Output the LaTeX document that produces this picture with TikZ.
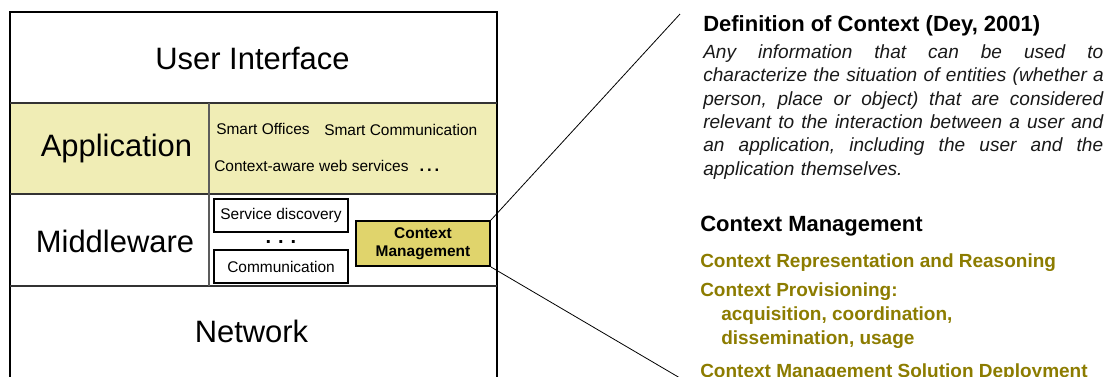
\documentclass[tikz,border=0pt]{standalone}
\usepackage{fontspec}
\setmainfont{Liberation Sans}
\definecolor{appfill}{HTML}{F0EDB5}
\definecolor{cmfill}{HTML}{E0D46C}
\definecolor{olivetxt}{HTML}{8C7C00}
\definecolor{sepgray}{HTML}{333333}
\newcommand{\justline}[1]{\leavevmode\hbox to 300pt{#1}}
\tikzset{
  biglabel/.style={font=\fontsize{23.2pt}{27pt}\selectfont, anchor=base, inner sep=0pt},
  smalltxt/.style={font=\fontsize{11.6pt}{14pt}\selectfont, anchor=base west, inner sep=0pt},
  subbox/.style={draw=black, line width=1.1pt, fill=white, minimum width=100.5pt, minimum height=24.75pt, inner sep=0pt, font=\fontsize{11.6pt}{14pt}\selectfont},
  cmbox/.style={draw=black, line width=1.5pt, fill=cmfill, minimum width=100.5pt, minimum height=33.75pt, inner sep=0pt, align=center, font=\bfseries\fontsize{11.6pt}{13.3pt}\selectfont},
  sepline/.style={draw=sepgray, line width=1.6pt},
  outerframe/.style={draw=black, line width=1pt},
  callout/.style={draw=black, line width=0.6pt},
  rhead/.style={font=\bfseries\fontsize{16.5pt}{19pt}\selectfont, anchor=base west, inner sep=0pt},
  olvitem/.style={font=\bfseries\fontsize{14.25pt}{17pt}\selectfont, text=olivetxt, anchor=base west, inner sep=0pt},
  ellip/.style={font=\bfseries\fontsize{12.5pt}{14pt}\selectfont, anchor=base, inner sep=0pt},
  defpara/.style={anchor=north west, inner sep=0pt, text width=300pt, align=left, font=\itshape\fontsize{14.3pt}{17.6pt}\selectfont, text=black!90},
}
\begin{document}
\begin{tikzpicture}[x=0.75pt,y=-0.75pt]
\useasboundingbox (0,0) rectangle (1108,376);
\begin{scope}
\clip (0,0) rectangle (1108,376);
% layers
\fill[appfill] (10,103.3) rectangle (497,194);
\draw[outerframe] (10,12) rectangle (497,420);
\draw[sepline] (10,103.3) -- (497,103.3);
\draw[sepline] (10,194) -- (497,194);
\draw[sepline] (10,286) -- (497,286);
\draw[sepline, draw=sepgray!80] (209,103.3) -- (209,286);
% layer labels
\node[biglabel] (ui) at (252.5,69.5) {User Interface};
\node[biglabel] (app) at (116.5,156.7) {Application};
\node[biglabel] (mw) at (115,252.3) {Middleware};
\node[biglabel] (net) at (251.5,342.7) {Network};
% application items
\node[smalltxt] (so) at (216,134) {Smart Offices};
\node[smalltxt] (sc) at (324,135) {Smart Communication};
\node[smalltxt] (caws) at (214,171) {Context-aware web services};
\node[ellip] (appdots) at (429.5,171.5) {.\hspace{2.2pt}.\hspace{2.2pt}.};
% middleware items
\node[subbox] (sd) at (281,215.5) {Service discovery};
\node[subbox] (comm) at (281,266.5) {Communication};
\node[ellip, font=\bfseries\fontsize{15pt}{16pt}\selectfont] (mwdots) at (281,243) {.\hspace{5.2pt}.\hspace{5.2pt}.};
\node[cmbox] (cm) at (423,243.5) {Context\\Management};
% callout
\coordinate (ctop) at (680,14);
\coordinate (cbot) at (680,378);
\draw[callout] (cm.north east) -- (ctop);
\draw[callout] (cm.south east) -- (cbot);
% right texts
\node[rhead] (deftitle) at (703,31.5) {Definition of Context (Dey, 2001)};
\node[defpara] (defn) at (703,44) {%
\justline{Any \hfill information \hfill that \hfill can \hfill be \hfill used \hfill to}\\
\justline{characterize \hfill the \hfill situation \hfill of \hfill entities \hfill (whether \hfill a}\\
\justline{person, \hfill place \hfill or \hfill object) \hfill that \hfill are \hfill considered}\\
\justline{relevant \hfill to \hfill the \hfill interaction \hfill between \hfill a \hfill user \hfill and}\\
\justline{an \hfill application, \hfill including \hfill the \hfill user \hfill and \hfill the}\\
application themselves.};
\node[rhead] (cmhead) at (700,231) {Context Management};
\node[olvitem] (crr) at (700,267) {Context Representation and Reasoning};
\node[olvitem] (cp) at (700,296) {Context Provisioning:};
\node[olvitem] (cp2) at (721,320) {acquisition, coordination,};
\node[olvitem] (cp3) at (721,344) {dissemination, usage};
\node[olvitem] (cmsd) at (700,377) {Context Management Solution Deployment};
\end{scope}
\end{tikzpicture}
\end{document}
